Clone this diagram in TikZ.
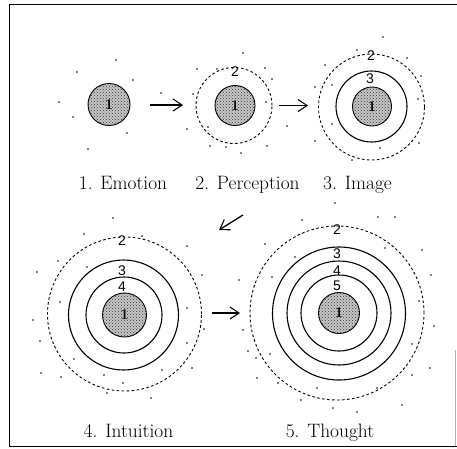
\documentclass[tikz,border=0pt]{standalone}
\usepackage{fontspec}
\newfontfamily\labfont{Liberation Sans}
\usetikzlibrary{arrows.meta,patterns}
\begin{document}
\begin{tikzpicture}[x=1pt,y=-1pt,
  core/.style={circle,draw,line width=0.9pt,inner sep=0pt,minimum size=#1,
     preaction={fill=black!22},pattern=crosshatch dots,pattern color=black!80},
  ring/.style={circle,draw,line width=1.1pt,inner sep=0pt,minimum size=#1},
  dring/.style={circle,draw,line width=0.9pt,dash pattern=on 2.6pt off 2.4pt,inner sep=0pt,minimum size=#1},
  lab/.style={font=\labfont\fontsize{14}{14}\selectfont,inner sep=0pt},
  one/.style={font=\fontsize{15}{15}\selectfont\bfseries,inner sep=0pt},
  captxt/.style={font=\fontsize{19.4}{22}\selectfont,inner sep=0pt,anchor=base},
  arr/.style={line width=1.3pt,-{Straight Barb[length=9pt,width=12pt,line width=1.1pt]}},
  dotfill/.style={fill=black}]
\useasboundingbox (0,0) rectangle (457,448);
% frame
\draw[line width=1pt] (457,4) -- (9,4) -- (9,446) -- (457,446);
\draw[line width=0.6pt,black!30] (455.5,350) -- (455.5,446);

% --- 1. Emotion
\node[core=42pt] (e1) at (109,104.5) {};
\node[one] (e1l) at (e1) {1};
% --- 2. Perception
\node[dring=76pt] (p2) at (234,105.5) {};
\node[core=40pt] (p1) at (235,105.5) {};
\node[one] (p1l) at (p1) {1};
\node[lab] (p2l) at (235,72) {2};
% --- 3. Image
\node[dring=106pt] (i2) at (371.5,107) {};
\node[ring=71pt] (i3) at (371.5,106.5) {};
\node[core=39pt] (i1) at (372,106.5) {};
\node[one] (i1l) at (i1) {1};
\node[lab] (i2l) at (371,56) {2};
\node[lab] (i3l) at (370,79) {3};
% --- 4. Intuition
\node[dring=154pt] (n2) at (124.5,314) {};
\node[ring=110pt] (n3) at (123.5,315) {};
\node[ring=76pt] (n4) at (124,315) {};
\node[core=44pt] (n1) at (124.5,315) {};
\node[one] (n1l) at (n1) {1};
\node[lab] (n2l) at (122,241) {2};
\node[lab] (n3l) at (122,271) {3};
\node[lab] (n4l) at (122,287) {4};
% --- 5. Thought
\node[dring=174pt] (t2) at (337,313) {};
\node[ring=133pt] (t3) at (339,313.5) {};
\node[ring=104pt] (t4) at (339,313) {};
\node[ring=76pt] (t5) at (339,313) {};
\node[core=41pt] (t1) at (339,313) {};
\node[one] (t1l) at (t1) {1};
\node[lab] (t2l) at (337,230) {2};
\node[lab] (t3l) at (337,254) {3};
\node[lab] (t4l) at (337,271) {4};
\node[lab] (t5l) at (337,286) {5};

% arrows
\coordinate (a1s) at (150,105);
\coordinate (a1e) at (183,105);
\coordinate (a2s) at (279,105.5);
\coordinate (a2e) at (308,105.5);
\coordinate (a3s) at (243,215);
\coordinate (a3e) at (219,230);
\coordinate (a4s) at (212,313);
\coordinate (a4e) at (240,313);
\draw[arr] (a1s) -- (a1e);
\draw[arr] (a2s) -- (a2e);
\draw[arr] (a3s) -- (a3e);
\draw[arr] (a4s) -- (a4e);

% captions
\node[captxt] (c1) at (123,189) {1. Emotion};
\node[captxt] (c2) at (247.5,189) {2. Perception};
\node[captxt] (c3) at (357.5,189) {3. Image};
\node[captxt] (c4) at (128.5,437) {4. Intuition};
\node[captxt] (c5) at (330,437) {5. Thought};

% scattered dots
\foreach \p in {(116,60),(77,72),(133,80),(59,102),(73,117),(127,133),(88,149),(161,93),(187,129),
  (243,53),(197,69),(217,69),(265,68),(272,79),(193,94),(266,102),(208,127),(210,146),(226,147),(241,153),(267,146),(287,126),
  (383,37),(357,50),(325,65),(407,58),(332,85),(315,87),(421,76),(418,99),(332,124),(315,141),(380,148),(419,143),(352,160),
  (113,218),(84,234),(142,236),(187,246),(58,261),(87,267),(37,272),(202,275),(60,302),(187,308),(33,320),(204,329),(40,341),(187,343),(74,359),(162,370),(192,368),(41,373),(61,377),(104,375),(123,383),(107,393),(151,398),
  (335,203),(302,220),(378,217),(395,217),(265,244),(295,257),(385,248),(422,250),(272,277),(431,275),(239,280),(419,301),(243,330),(434,326),(248,351),(270,354),(412,344),(256,358),(430,368),(412,375),(257,378),(278,383),(317,388),(377,388),(301,400),(333,408),(357,412),(402,405)}
  \fill[dotfill] \p circle[radius=0.95pt];
\end{tikzpicture}
\end{document}
